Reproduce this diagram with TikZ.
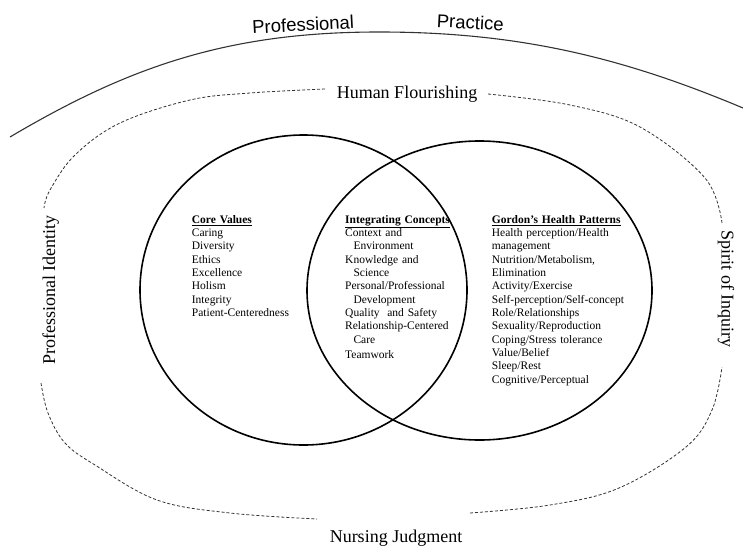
\documentclass[tikz,border=0pt]{standalone}
\usepackage{fontspec}
\setmainfont{Liberation Serif}
\setsansfont{Liberation Sans}
\begin{document}
\begin{tikzpicture}[x=1pt,y=-1pt,
  venn/.style={line width=1.6pt,black},
  outerarc/.style={line width=1.1pt,black!80},
  dashring/.style={line width=0.8pt,black!80,dash pattern=on 3pt off 2pt},
  listtext/.style={anchor=base west,inner sep=0pt,text width=150pt,align=left,
    font=\fontsize{11.5}{13.33}\selectfont},
  ringlabel/.style={inner sep=0pt,font=\fontsize{18}{20}\selectfont},
  practicelabel/.style={inner sep=0pt,font=\sffamily\fontsize{18.5}{20}\selectfont}]
\useasboundingbox (0,0) rectangle (743,546);
% outer solid arc
\coordinate (arcL) at (10,137);
\coordinate (arcT) at (379,32);
\coordinate (arcR) at (743,108);
\draw[outerarc] (arcL) .. controls (130,66) and (229,32) .. (arcT)
  .. controls (519,32) and (623,57.6) .. (arcR);
% dashed ring, four pieces
\draw[dashring] plot[smooth,tension=0.6] coordinates
  {(325,89) (250,93) (190,100) (120,123) (75,155) (50,190) (44,208)};
\draw[dashring] plot[smooth,tension=0.6] coordinates
  {(41,383) (48,413) (65,443) (95,465) (157,500) (230,513) (317,519)};
\draw[dashring] plot[smooth,tension=0.6] coordinates
  {(470,513) (550,505) (619,488) (686,447) (712,410) (722,367)};
\draw[dashring] plot[smooth,tension=0.6] coordinates
  {(722,223) (705,178) (640,127) (570,105) (488,94)};
% Venn circles
\draw[venn] (303.5,290) ellipse [x radius=163.5pt, y radius=155pt];
\draw[venn] (479.5,290.5) ellipse [x radius=172.5pt, y radius=149.5pt];
% labels
\node[practicelabel,anchor=base,rotate=3] (prof) at (303.5,31) {Professional};
\node[practicelabel,anchor=base,rotate=-3] (pract) at (470,29) {Practice};
\node[ringlabel,anchor=base] (hf) at (407,98) {Human Flourishing};
\node[ringlabel,anchor=base] (nj) at (396,542) {Nursing Judgment};
\node[ringlabel,anchor=base,rotate=90] (pi) at (55,290) {Professional Identity};
\node[ringlabel,anchor=base,rotate=-90] (si) at (721.5,289) {Spirit of Inquiry};
% lists
\node[listtext] (core) at (191.7,223.3) {\underline{\textbf{Core Values}}\\
Caring\\ Diversity\\ Ethics\\ Excellence\\ Holism\\ Integrity\\ Patient-Centeredness};
\node[listtext] (integ) at (345,223.3) {\underline{\textbf{Integrating Concepts}}\\
Context and\\ \hspace*{8.3pt}Environment\\ Knowledge and\\ \hspace*{8.3pt}Science\\
Personal/Professional\\ \hspace*{8.3pt}Development\\ Quality\ \ and Safety\\
Relationship-Centered\\ \hspace*{8.3pt}Care\\[1.7pt] Teamwork};
\node[listtext] (gordon) at (491.7,223.3) {\underline{\textbf{Gordon’s Health Patterns}}\\
Health perception/Health\\ management\\ Nutrition/Metabolism,\\ Elimination\\
Activity/Exercise\\ Self-perception/Self-concept\\ Role/Relationships\\
Sexuality/Reproduction\\ Coping/Stress tolerance\\ Value/Belief\\ Sleep/Rest\\
Cognitive/Perceptual};
\end{tikzpicture}
\end{document}
